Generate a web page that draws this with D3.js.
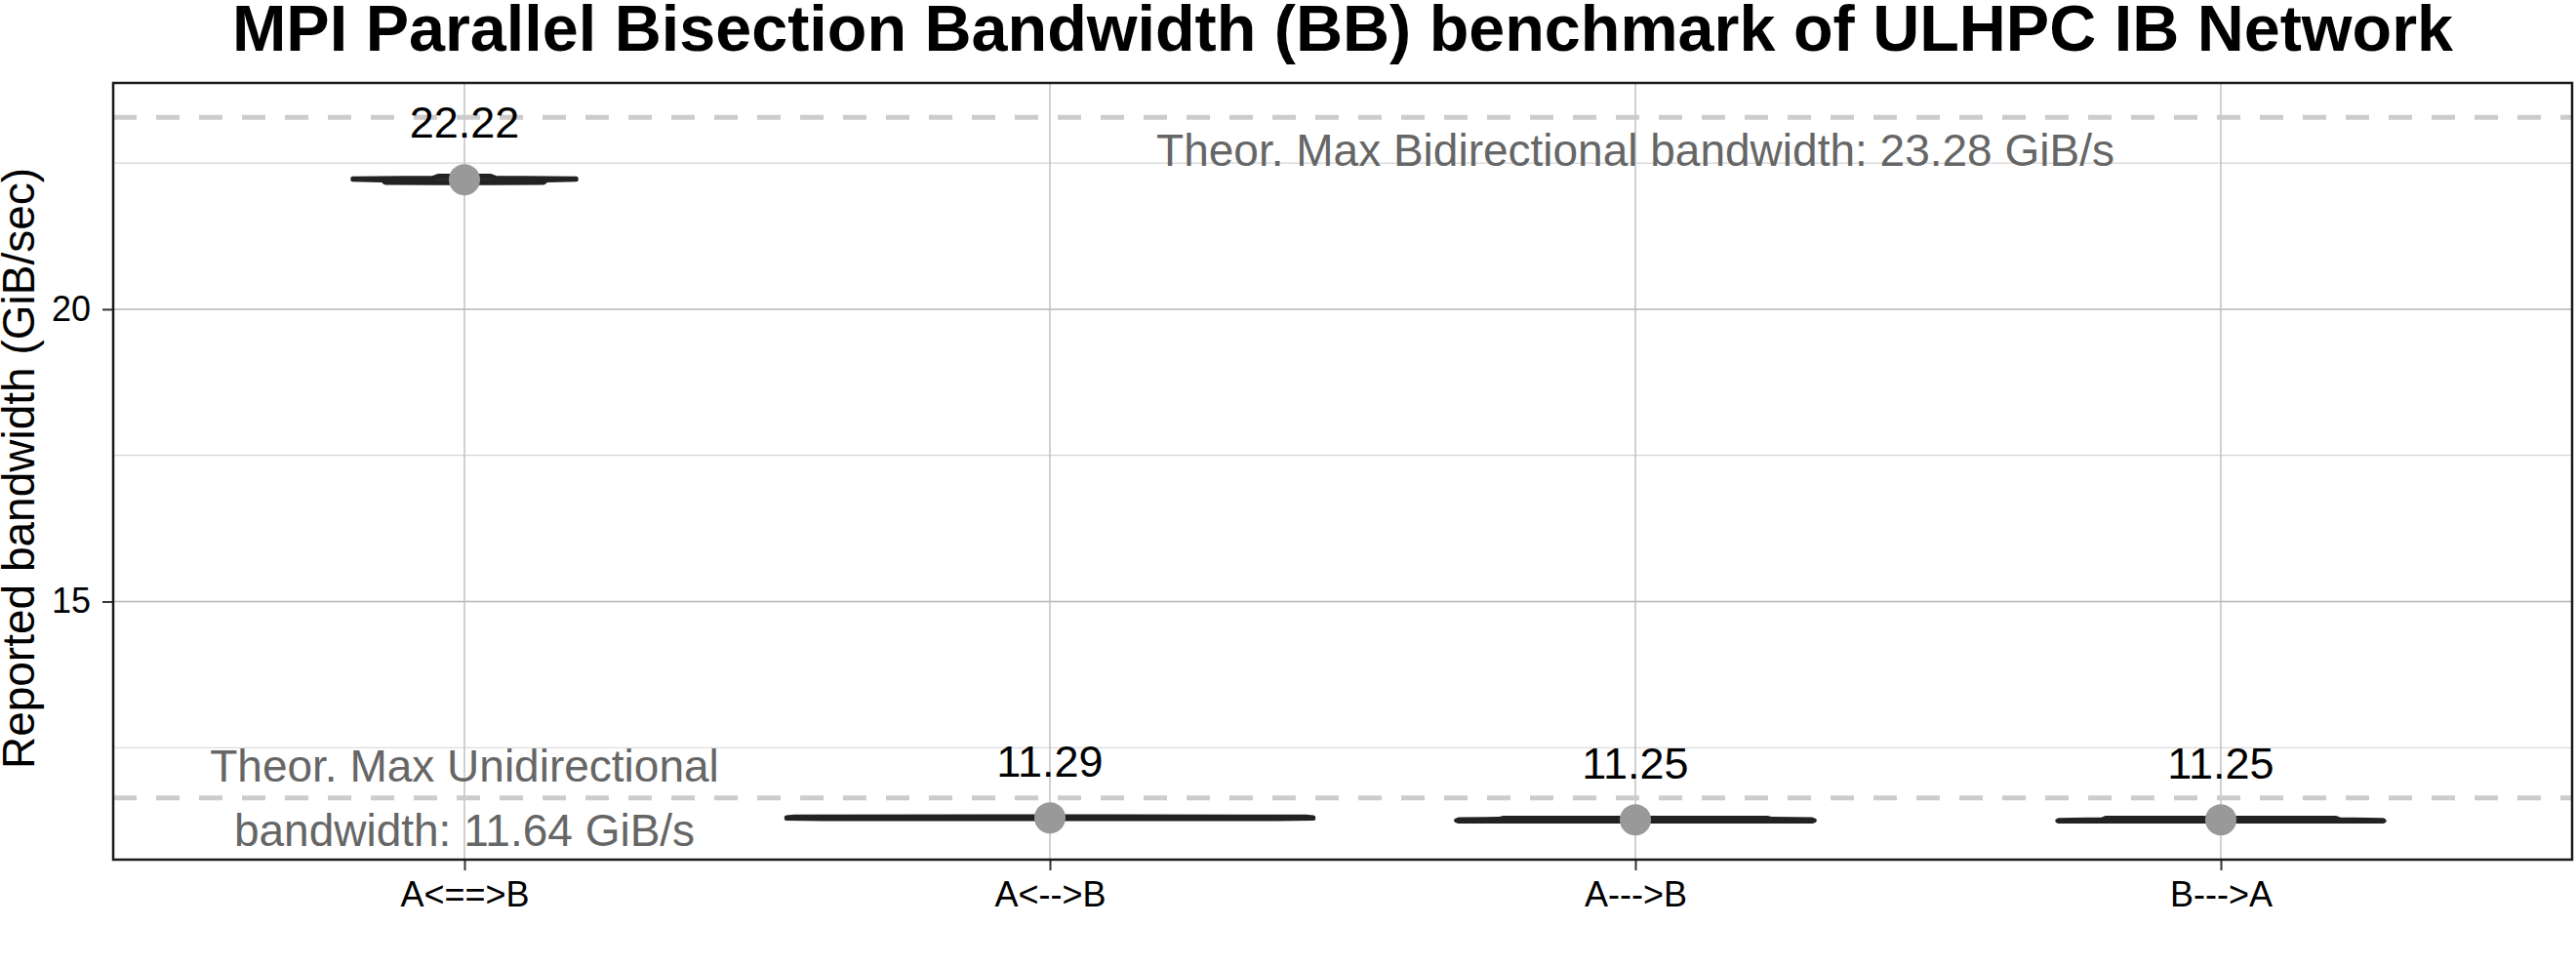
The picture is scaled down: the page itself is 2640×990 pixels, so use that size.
<!DOCTYPE html>
<html>
<head>
<meta charset="utf-8">
<script src="https://cdn.jsdelivr.net/npm/d3@7"></script>
<style>
  body { margin: 0; background: #fff; }
  svg { display: block; font-family: "Liberation Sans", Arial, sans-serif; }
</style>
</head>
<body>
<div class="chart"></div>
<script>
// categories and summary values
var categories = ["A<==>B", "A<-->B", "A--->B", "B--->A"];
var labelValues = [22.22, 11.29, 11.25, 11.25];
var pointValues = [22.215, 11.30, 11.267, 11.267];

// theoretical maxima (dashed lines)
var theorBi = 23.28,
    theorUni = 11.64;

// violin profiles: [value, relative density]
var violinBidir = [[22.158, 0.10], [22.165, 0.30], [22.18, 0.305], [22.205, 0.31],
                   [22.217, 0.424], [22.234, 0.424], [22.245, 0.12], [22.28, 0.10]];
var violinBoth  = [[11.28, 0.86], [11.29, 1.0], [11.305, 1.0], [11.318, 0.97], [11.325, 0.25]];
var violinAtoB  = [[11.239, 0.67], [11.255, 0.68], [11.273, 0.67], [11.28, 0.52], [11.299, 0.50]];
var violinBtoA  = [[11.238, 0.615], [11.25, 0.62], [11.262, 0.615], [11.275, 0.45], [11.299, 0.435]];
var violins = [violinBidir, violinBoth, violinAtoB, violinBtoA];

// axis ticks
var yMajor = [15, 20],
    yMinor = [12.5, 17.5, 22.5],
    yDomain = [10.585, 23.87];

var W = 2640, H = 990;
var margin = {top: 85, right: 4, bottom: 109, left: 116};
var width = W - margin.left - margin.right,
    height = H - margin.top - margin.bottom;

var svg = d3.select('.chart').append('svg')
    .attr('width', W)
    .attr('height', H);

var g = svg.append('g')
    .attr('transform', 'translate(' + margin.left + ',' + margin.top + ')');

var xScale = d3.scalePoint()
    .domain(categories)
    .range([0, width])
    .padding(0.6);

var yScale = d3.scaleLinear()
    .domain(yDomain)
    .range([height, 0]);

var wScale = d3.scaleLinear()
    .domain([0, 1])
    .range([0, xScale.step() * 0.45]);

// grid
g.selectAll('.minor').data(yMinor).enter().append('line')
    .attr('x1', 0).attr('x2', width)
    .attr('y1', function(d) { return yScale(d); })
    .attr('y2', function(d) { return yScale(d); })
    .attr('stroke', '#d4d4d4').attr('stroke-width', 1.2);

g.selectAll('.major').data(yMajor).enter().append('line')
    .attr('x1', 0).attr('x2', width)
    .attr('y1', function(d) { return yScale(d); })
    .attr('y2', function(d) { return yScale(d); })
    .attr('stroke', '#b4b4b4').attr('stroke-width', 1.5);

g.selectAll('.vgrid').data(categories).enter().append('line')
    .attr('x1', function(d) { return xScale(d); })
    .attr('x2', function(d) { return xScale(d); })
    .attr('y1', 0).attr('y2', height)
    .attr('stroke', '#c0c0c0').attr('stroke-width', 1.5);

// dashed theoretical lines
g.selectAll('.theor').data([theorBi, theorUni]).enter().append('line')
    .attr('x1', 0).attr('x2', width)
    .attr('y1', function(d) { return yScale(d); })
    .attr('y2', function(d) { return yScale(d); })
    .attr('stroke', '#cccccc')
    .attr('stroke-width', 5)
    .attr('stroke-dasharray', '24,20');

// violins
violins.forEach(function(v, i) {
    var cx = xScale(categories[i]);
    var area = d3.area()
        .y(function(d) { return yScale(d[0]); })
        .x0(function(d) { return cx - wScale(d[1]); })
        .x1(function(d) { return cx + wScale(d[1]); });
    g.append('path')
        .datum(v)
        .attr('d', area)
        .attr('fill', '#2b2b2b')
        .attr('stroke', '#222222')
        .attr('stroke-width', 4.5)
        .attr('stroke-linejoin', 'round');
});

// mean points
g.selectAll('.pt').data(pointValues).enter().append('circle')
    .attr('cx', function(d, i) { return xScale(categories[i]); })
    .attr('cy', function(d) { return yScale(d); })
    .attr('r', 16)
    .attr('fill', '#999999');

// value labels
g.selectAll('.lbl').data(labelValues).enter().append('text')
    .attr('x', function(d, i) { return xScale(categories[i]); })
    .attr('y', function(d) { return yScale(d) - 43; })
    .attr('text-anchor', 'middle')
    .attr('font-size', 45)
    .attr('fill', '#000')
    .text(function(d) { return d.toFixed(2); });

// annotations
g.append('text')
    .attr('x', xScale(categories[2]))
    .attr('y', yScale(22.72))
    .attr('dy', '0.35em')
    .attr('text-anchor', 'middle')
    .attr('font-size', 46)
    .attr('fill', '#666666')
    .text('Theor. Max Bidirectional bandwidth: ' + theorBi.toFixed(2) + ' GiB/s');

var uni = g.append('text')
    .attr('x', xScale(categories[0]))
    .attr('y', yScale(theorUni))
    .attr('text-anchor', 'middle')
    .attr('font-size', 46)
    .attr('fill', '#666666');
uni.append('tspan')
    .attr('x', xScale(categories[0]))
    .attr('dy', -17)
    .text('Theor. Max Unidirectional');
uni.append('tspan')
    .attr('x', xScale(categories[0]))
    .attr('dy', 66)
    .text('bandwidth: ' + theorUni.toFixed(2) + ' GiB/s');

// axes
var xAxis = d3.axisBottom(xScale).tickSize(11).tickPadding(11);
var yAxis = d3.axisLeft(yScale).tickValues(yMajor).tickSize(11).tickPadding(12);

var gx = g.append('g')
    .attr('transform', 'translate(0,' + height + ')')
    .call(xAxis);
var gy = g.append('g').call(yAxis);

[gx, gy].forEach(function(a) {
    a.select('.domain').remove();
    a.selectAll('line').attr('stroke', '#333').attr('stroke-width', 2);
    a.selectAll('text')
        .attr('font-size', 36)
        .attr('fill', '#000')
        .style('font-family', '"Liberation Sans", Arial, sans-serif');
});

// panel border
g.append('rect')
    .attr('width', width)
    .attr('height', height)
    .attr('fill', 'none')
    .attr('stroke', '#1a1a1a')
    .attr('stroke-width', 2.5);

// titles
svg.append('text')
    .attr('x', margin.left + width / 2)
    .attr('y', 52)
    .attr('text-anchor', 'middle')
    .attr('font-size', 66.5)
    .attr('font-weight', 'bold')
    .text('MPI Parallel Bisection Bandwidth (BB) benchmark of ULHPC IB Network');

svg.append('text')
    .attr('transform', 'translate(35,' + (margin.top + height / 2 - 3) + ') rotate(-90)')
    .attr('text-anchor', 'middle')
    .attr('font-size', 46)
    .text('Reported bandwidth (GiB/sec)');
</script>
</body>
</html>
